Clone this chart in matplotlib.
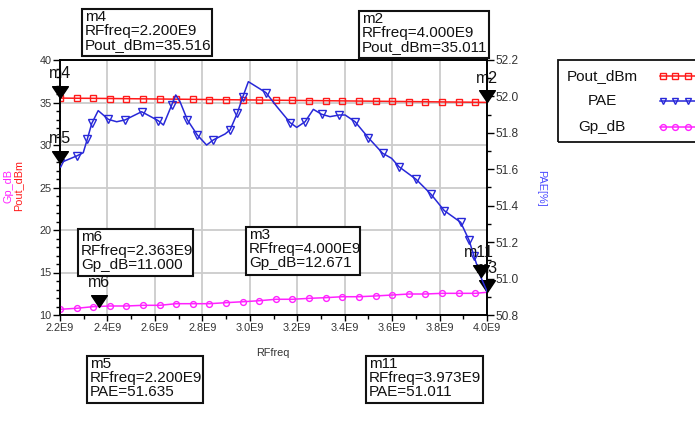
import matplotlib
matplotlib.use("Agg")
import matplotlib.pyplot as plt
from matplotlib.lines import Line2D
from matplotlib.patches import Rectangle
from matplotlib.path import Path
import numpy as np

plt.rcParams['font.family'] = ['Liberation Sans', 'DejaVu Sans']

W, H = 695, 424

# ---------------- data ----------------
freq_markers = [2.20, 2.27, 2.34, 2.41, 2.48, 2.55, 2.62, 2.69, 2.76, 2.83, 2.90, 2.97, 3.04,
                3.11, 3.18, 3.25, 3.32, 3.39, 3.46, 3.53, 3.60, 3.67, 3.74, 3.81, 3.88, 3.95, 4.00]
pout_dbm = [35.52, 35.50, 35.49, 35.47, 35.45, 35.43, 35.41, 35.39, 35.37, 35.35, 35.33, 35.31, 35.29,
            35.27, 35.25, 35.23, 35.21, 35.19, 35.17, 35.15, 35.13, 35.11, 35.09, 35.07, 35.05, 35.03, 35.011]
gp_db = [10.67, 10.79, 10.98, 11.06, 11.06, 11.14, 11.14, 11.33, 11.33, 11.33, 11.45, 11.56, 11.68,
         11.85, 11.85, 11.96, 12.04, 12.15, 12.15, 12.24, 12.35, 12.47, 12.47, 12.55, 12.55, 12.55, 12.671]

pae_freq = [2.200, 2.270, 2.298, 2.315, 2.334, 2.361, 2.404, 2.439, 2.474, 2.544, 2.614, 2.636,
            2.671, 2.688, 2.706, 2.737, 2.779, 2.818, 2.846, 2.896, 2.917, 2.947, 2.970, 2.994,
            3.068, 3.114, 3.170, 3.198, 3.233, 3.268, 3.303, 3.338, 3.377, 3.402, 3.444, 3.500,
            3.560, 3.598, 3.629, 3.701, 3.764, 3.820, 3.889, 3.924, 3.945, 3.973, 4.000]
pae = [51.635, 51.673, 51.691, 51.765, 51.852, 51.922, 51.874, 51.861, 51.871, 51.916, 51.867, 51.843,
       51.953, 52.008, 51.971, 51.871, 51.788, 51.733, 51.761, 51.794, 51.816, 51.907, 51.995, 52.081,
       52.021, 51.944, 51.856, 51.830, 51.861, 51.929, 51.902, 51.889, 51.898, 51.898, 51.861, 51.773,
       51.688, 51.660, 51.614, 51.545, 51.463, 51.373, 51.309, 51.212, 51.124, 51.011, 50.930]
pae_marker_idx = [0, 1, 3, 4, 6, 8, 9, 10, 12, 15, 16, 18, 20, 21, 22, 24, 26, 28, 30, 32,
                  34, 35, 36, 38, 39, 40, 41, 42, 43, 44]

x_ticks = [2.2, 2.4, 2.6, 2.8, 3.0, 3.2, 3.4, 3.6, 3.8, 4.0]
x_tick_labels = ["2.2E9", "2.4E9", "2.6E9", "2.8E9", "3.0E9", "3.2E9", "3.4E9", "3.6E9", "3.8E9", "4.0E9"]
left_ticks = [10, 15, 20, 25, 30, 35, 40]
right_ticks = [50.8, 51.0, 51.2, 51.4, 51.6, 51.8, 52.0, 52.2]

marker_pts = [("m4", "left", 2.200, 35.516), ("m2", "left", 4.000, 35.011),
              ("m6", "left", 2.363, 11.000), ("m3", "left", 4.000, 12.671),
              ("m5", "right", 2.200, 51.635), ("m11", "right", 3.973, 51.011)]
boxes = [("m4", "RFfreq=2.200E9", "Pout_dBm=35.516", (82, 9, 212, 56)),
         ("m2", "RFfreq=4.000E9", "Pout_dBm=35.011", (359, 11, 489, 58)),
         ("m6", "RFfreq=2.363E9", "Gp_dB=11.000", (78, 229, 193, 276)),
         ("m3", "RFfreq=4.000E9", "Gp_dB=12.671", (246, 227, 360, 275)),
         ("m5", "RFfreq=2.200E9", "PAE=51.635", (87, 356, 203, 403)),
         ("m11", "RFfreq=3.973E9", "PAE=51.011", (366, 356, 483, 403))]

# ---------------- figure ----------------
fig = plt.figure(figsize=(W / 100, H / 100), dpi=100)
L, R, T, B = 60, 487, 60, 315
ax = fig.add_axes([L / W, 1 - B / H, (R - L) / W, (B - T) / H])
ax2 = ax.twinx()

RED = "#ff1a1a"
BLUE = "#2828d8"
MAG = "#ff22ff"
TXT = "#333333"

ax.set_xlim(2.2, 4.0)
ax.set_ylim(10, 40)
ax2.set_ylim(50.8, 52.2)

ax.plot(freq_markers, pout_dbm, color=RED, lw=1.1, marker='s', ms=4.2, mfc='none', mec=RED,
        mew=1.0, markevery=list(range(len(freq_markers) - 1)), zorder=3)
ax.plot(freq_markers, gp_db, color=MAG, lw=1.1, marker='o', ms=4.2, mfc='none', mec=MAG,
        mew=1.0, markevery=list(range(len(freq_markers) - 1)), zorder=3)
ax2.plot(pae_freq, pae, color=BLUE, lw=1.1, marker='v', ms=5.2, mfc='none', mec=BLUE,
         mew=1.0, markevery=pae_marker_idx, zorder=3, solid_joinstyle='round')

ax.set_xticks(x_ticks)
ax.set_xticklabels(x_tick_labels)
ax.set_xticks(np.arange(2.3, 4.0, 0.2), minor=True)
ax.set_yticks(left_ticks)
ax.set_yticks(np.arange(10, 41, 1), minor=True)
ax2.set_yticks(right_ticks)
ax2.set_yticks(np.arange(50.9, 52.2, 0.2), minor=True)
ax.grid(True, which='major', color='#cccccc', lw=1.3)
ax.set_axisbelow(True)

for a in (ax, ax2):
    for s in a.spines.values():
        s.set_color('black')
        s.set_linewidth(1.2)
ax.tick_params(axis='x', which='major', direction='out', length=4, width=1, colors='black',
               labelcolor=TXT, labelsize=7.8, pad=2)
ax.tick_params(axis='x', which='minor', direction='out', length=3, width=1, colors='black')
ax.tick_params(axis='y', which='major', direction='out', length=5, width=1, colors='black',
               labelcolor=TXT, labelsize=7.8, pad=1)
ax.tick_params(axis='y', which='minor', direction='out', length=3, width=1, colors='black')
ax2.tick_params(axis='y', which='major', direction='out', length=5, width=1, colors='black',
                labelcolor=TXT, labelsize=8.6, pad=1)
ax2.tick_params(axis='y', which='minor', direction='out', length=3, width=1, colors='black')
ax2.yaxis.set_major_formatter(matplotlib.ticker.FormatStrFormatter('%.1f'))

fig.text(273 / W, 1 - 353 / H, "RFfreq", color=TXT, fontsize=7.8, ha='center', va='center')
fig.text(8 / W, 1 - 186 / H, "Gp_dB", color=MAG, fontsize=7.8, rotation=90, ha='center', va='center')
fig.text(18 / W, 1 - 186 / H, "Pout_dBm", color=RED, fontsize=7.8, rotation=90, ha='center', va='center')
fig.text(541 / W, 1 - 188 / H, "PAE[%]", color="#4a4aff", fontsize=7.8, rotation=270, ha='center', va='center')

tri = Path([(0, 0), (-0.67, 1), (0.67, 1), (0, 0)], [Path.MOVETO, Path.LINETO, Path.LINETO, Path.CLOSEPOLY])
for name, side, x, y in marker_pts:
    a = ax if side == "left" else ax2
    a.plot([x], [y], marker=tri, ms=17, color='black', mec='black', clip_on=False, zorder=6, ls='none')
    dx = -1 if name == "m11" else 0
    a.annotate(name, (x, y), xytext=(dx, 12), textcoords='offset points', ha='center', va='bottom',
               fontsize=11.5, color='#111111', annotation_clip=False, zorder=7)

for name, l2, l3, (x0, y0, x1, y1) in boxes:
    fig.add_artist(Rectangle((x0 / W, 1 - y1 / H), (x1 - x0) / W, (y1 - y0) / H,
                             transform=fig.transFigure, fill=True, fc='white', ec='#111111', lw=1.5, zorder=8))
    fig.text((x0 + 3) / W, 1 - (y0 + 1) / H, name + "\n" + l2 + "\n" + l3, fontsize=11,
             linespacing=0.98, ha='left', va='top', color='#111111', zorder=9)

fig.add_artist(Rectangle((558 / W, 1 - 142 / H), 150 / W, 82 / H, transform=fig.transFigure,
                         fill=False, ec='#111111', lw=1.3))
leg = [("Pout_dBm", RED, 's', 76), ("PAE", BLUE, 'v', 101), ("Gp_dB", MAG, 'o', 127)]
for lab, col, mk, yy in leg:
    fig.text(602 / W, 1 - yy / H, lab, fontsize=11, ha='center', va='center', color='#111111')
    fig.add_artist(Line2D([660 / W, 700 / W], [1 - yy / H, 1 - yy / H], transform=fig.transFigure,
                          color=col, lw=1.1))
    fig.add_artist(Line2D([663 / W, 675 / W, 688 / W], [1 - yy / H] * 3, transform=fig.transFigure,
                          color=col, lw=0, marker=mk, ms=4.2, mfc='none', mec=col, mew=1.0))

fig.savefig("out.png", dpi=100)
